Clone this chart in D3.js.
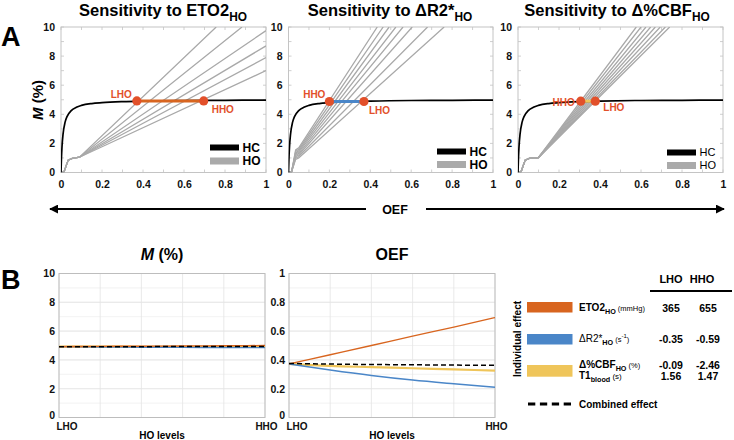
<!DOCTYPE html>
<html><head><meta charset="utf-8">
<script src="https://cdn.jsdelivr.net/npm/d3@7"></script>
<style>body{margin:0;background:#fff}svg{display:block;font-family:"Liberation Sans",Arial,Helvetica,sans-serif}</style>
</head><body><svg id="c" width="734" height="440"></svg>
<script>
// ---------------- DATA ----------------
const oefTicks = [0, 0.2, 0.4, 0.6, 0.8, 1];
const mTicks = [0, 2, 4, 6, 8, 10];
const hoLevelLabels = ["LHO", "HHO"];
const hoLevels = [0, 1, 2, 3, 4, 5];

// HC curve (M vs OEF)
const hcOEF = [0, 0.002, 0.005, 0.01, 0.02, 0.03, 0.05, 0.075, 0.1, 0.15, 0.2, 0.3, 0.4, 0.6, 0.8, 1];
const hcM   = [0, 0.91, 1.79, 2.64, 3.46, 3.86, 4.25, 4.48, 4.61, 4.74, 4.80, 4.87, 4.91, 4.95, 4.96, 4.98];

// HO curves ([OEF, M] points), sensitivity to ETO2
const hoETO2 = [
  [[0,0],[0.015,0.05],[0.035,0.85],[0.055,0.97],[0.09,1.05],[0.757,10]],
  [[0,0],[0.015,0.05],[0.035,0.85],[0.055,0.97],[0.09,1.05],[0.883,10]],
  [[0,0],[0.015,0.05],[0.035,0.85],[0.055,0.97],[0.09,1.05],[1,9.75]],
  [[0,0],[0.015,0.05],[0.035,0.85],[0.055,0.97],[0.09,1.05],[1,8.7]],
  [[0,0],[0.015,0.05],[0.035,0.85],[0.055,0.97],[0.09,1.05],[1,7.9]],
  [[0,0],[0.015,0.05],[0.035,0.85],[0.055,0.97],[0.09,1.05],[1,7.0]]
];
// sensitivity to dR2*
const hoR2 = [
  [[0,0],[0.015,0.05],[0.035,1.55],[0.05,1.7],[0.434,10]],
  [[0,0],[0.015,0.05],[0.035,1.45],[0.05,1.6],[0.463,10]],
  [[0,0],[0.015,0.05],[0.035,1.35],[0.05,1.5],[0.492,10]],
  [[0,0],[0.015,0.05],[0.035,1.26],[0.05,1.4],[0.525,10]],
  [[0,0],[0.015,0.05],[0.035,1.17],[0.05,1.3],[0.56,10]],
  [[0,0],[0.015,0.05],[0.035,1.08],[0.05,1.2],[0.605,10]],
  [[0,0],[0.015,0.05],[0.035,0.99],[0.05,1.1],[0.68,10]],
  [[0,0],[0.015,0.05],[0.035,0.90],[0.05,1.0],[0.761,10]]
];
// sensitivity to d%CBF
const hoCBF = [
  [[0,0],[0.015,0.05],[0.035,0.85],[0.055,0.97],[0.1,1.03],[0.577,10]],
  [[0,0],[0.015,0.05],[0.035,0.85],[0.055,0.97],[0.1,1.03],[0.600,10]],
  [[0,0],[0.015,0.05],[0.035,0.85],[0.055,0.97],[0.1,1.03],[0.624,10]],
  [[0,0],[0.015,0.05],[0.035,0.85],[0.055,0.97],[0.1,1.03],[0.647,10]],
  [[0,0],[0.015,0.05],[0.035,0.85],[0.055,0.97],[0.1,1.03],[0.670,10]],
  [[0,0],[0.015,0.05],[0.035,0.85],[0.055,0.97],[0.1,1.03],[0.694,10]],
  [[0,0],[0.015,0.05],[0.035,0.85],[0.055,0.97],[0.1,1.03],[0.719,10]],
  [[0,0],[0.015,0.05],[0.035,0.85],[0.055,0.97],[0.1,1.03],[0.740,10]]
];
// operating points [LHO, HHO] OEF, and M level
const dotsETO2 = [0.37, 0.696];  const dotMETO2 = 4.92;
const dotsR2   = [0.369, 0.2];   const dotMR2   = 4.88;
const dotsCBF  = [0.377, 0.306]; const dotMCBF  = 4.9;

// Panel B: M (%) across HO levels
const mETO2     = [4.92, 4.94, 4.95, 4.97, 4.98, 5.00];
const mR2       = [4.92, 4.90, 4.88, 4.87, 4.86, 4.85];
const mCBF      = [4.92, 4.92, 4.91, 4.91, 4.90, 4.90];
const mCombined = [4.92, 4.92, 4.92, 4.93, 4.93, 4.93];
// Panel B: OEF across HO levels
const oefETO2     = [0.372, 0.436, 0.500, 0.565, 0.628, 0.694];
const oefR2       = [0.372, 0.330, 0.292, 0.260, 0.234, 0.210];
const oefCBF      = [0.372, 0.358, 0.350, 0.342, 0.334, 0.326];
const oefCombined = [0.375, 0.371, 0.368, 0.366, 0.364, 0.362];

// Table
const tableHeaders = ["LHO", "HHO"];
const rowETO2 = ["365", "655"];
const rowR2 = ["-0.35", "-0.59"];
const rowCBF = ["-0.09", "-2.46"];
const rowT1 = ["1.56", "1.47"];

// ---------------- STYLE ----------------
const ORANGE = "#d8651f", BLUE = "#4a86c8", YELLOW = "#efc55a", DOT = "#e2502a", GRAY = "#a9a9a9";
const svg = d3.select("#c");

function rich(t, parts, fs) {
  let shift = 0;
  parts.forEach(p => {
    const ts = t.append("tspan").text(p.t);
    let target = 0, size = fs;
    if (p.sub) { target = fs * 0.3; size = fs * 0.72; }
    if (p.sup) { target = -fs * 0.4; size = fs * 0.6; }
    if (p.size) size = p.size;
    ts.attr("font-size", size);
    if (target !== shift) { ts.attr("dy", target - shift); shift = target; }
    if (p.it) ts.attr("font-style", "italic");
    if (p.w) ts.attr("font-weight", p.w);
  });
}

// ---------------- PANEL A ----------------
const A_Y0 = 172.5, A_Y1 = 27;
const panelsA = [
  { x0: 61, x1: 266, cx: 163, title: [{t:"Sensitivity to ETO2"},{t:"HO",sub:true}], lines: hoETO2, dots: dotsETO2, dotM: dotMETO2, color: ORANGE,
    lab: [{t:"LHO", dx:-5, dy:-3, anchor:"end"}, {t:"HHO", dx:8, dy:12, anchor:"start"}], leg: [-25, -11.5], legW: 700, legFs: 12 },
  { x0: 288.5, x1: 493, cx: 390, title: [{t:"Sensitivity to \u0394R2*"},{t:"HO",sub:true}], lines: hoR2, dots: dotsR2, dotM: dotMR2, color: BLUE,
    lab: [{t:"LHO", dx:5, dy:13, anchor:"start"}, {t:"HHO", dx:-4, dy:-3, anchor:"end"}], leg: [-21, -8], legW: 700, legFs: 12 },
  { x0: 518, x1: 723, cx: 617, title: [{t:"Sensitivity to \u0394%CBF"},{t:"HO",sub:true}], lines: hoCBF, dots: dotsCBF, dotM: dotMCBF, color: YELLOW,
    lab: [{t:"LHO", dx:8, dy:10, anchor:"start"}, {t:"HHO", dx:-6, dy:5, anchor:"end"}], leg: [-20, -7], legW: 400, legFs: 11 }
];

panelsA.forEach((p, i) => {
  const x = d3.scaleLinear().domain([0, 1]).range([p.x0, p.x1]);
  const y = d3.scaleLinear().domain([0, 10]).range([A_Y0, A_Y1]);
  const g = svg.append("g");
  g.append("rect").attr("x", p.x0).attr("y", A_Y1).attr("width", p.x1 - p.x0).attr("height", A_Y0 - A_Y1)
    .attr("fill", "#fff").attr("stroke", "#c4c4c4").attr("stroke-width", 1);
  const tk = g.append("g").attr("stroke", "#c4c4c4").attr("stroke-width", 0.8);
  d3.range(0, 1.001, 0.1).forEach(v => {
    tk.append("line").attr("x1", x(v)).attr("x2", x(v)).attr("y1", A_Y0).attr("y2", A_Y0 - 3);
    tk.append("line").attr("x1", x(v)).attr("x2", x(v)).attr("y1", A_Y1).attr("y2", A_Y1 + 3);
  });
  d3.range(0, 10.001, 1).forEach(v => {
    tk.append("line").attr("y1", y(v)).attr("y2", y(v)).attr("x1", p.x0).attr("x2", p.x0 + 3);
    tk.append("line").attr("y1", y(v)).attr("y2", y(v)).attr("x1", p.x1).attr("x2", p.x1 - 3);
  });
  const ax = d3.axisBottom(x).tickValues(oefTicks).tickFormat(d => d === 0 || d === 1 ? d3.format("d")(d) : d3.format(".1f")(d)).tickSize(0).tickPadding(8);
  const gx = g.append("g").attr("transform", `translate(0,${A_Y0})`).call(ax);
  gx.select(".domain").remove();
  gx.selectAll("text").attr("font-size", 10.5).attr("font-weight", "bold").attr("fill", "#111").attr("font-family", null);
  const ay = d3.axisLeft(y).tickValues(mTicks).tickSize(0).tickPadding(6);
  const gy = g.append("g").attr("transform", `translate(${p.x0},0)`).call(ay);
  gy.select(".domain").remove();
  gy.selectAll("text").attr("font-size", 10.5).attr("font-weight", "bold").attr("fill", "#111").attr("font-family", null);

  const cid = "clipA" + i;
  svg.append("clipPath").attr("id", cid).append("rect").attr("x", p.x0).attr("y", A_Y1).attr("width", p.x1 - p.x0).attr("height", A_Y0 - A_Y1);
  const pg = g.append("g").attr("clip-path", `url(#${cid})`);
  const line = d3.line().x(d => x(d[0])).y(d => y(d[1]));
  p.lines.forEach(l => {
    pg.append("path").attr("d", line(l)).attr("fill", "none").attr("stroke", GRAY).attr("stroke-width", 1.3);
  });
  const hc = hcOEF.map((v, k) => [v, hcM[k]]);
  pg.append("path").attr("d", d3.line().x(d => x(d[0])).y(d => y(d[1])).curve(d3.curveMonotoneX)(hc))
    .attr("fill", "none").attr("stroke", "#000").attr("stroke-width", 1.7);
  g.append("line").attr("x1", x(p.dots[0])).attr("x2", x(p.dots[1])).attr("y1", y(p.dotM)).attr("y2", y(p.dotM))
    .attr("stroke", p.color).attr("stroke-width", 3);
  p.dots.forEach((d, k) => {
    g.append("circle").attr("cx", x(d)).attr("cy", y(p.dotM)).attr("r", 4.6).attr("fill", DOT);
    const L = p.lab[k];
    g.append("text").attr("x", x(d) + L.dx).attr("y", y(p.dotM) + L.dy).attr("text-anchor", L.anchor)
      .attr("font-size", 10).attr("font-weight", "bold").attr("fill", DOT).text(L.t);
  });
  const lg = g.append("g");
  [["HC", "#000", p.leg[0], 6], ["HO", "#aaaaaa", p.leg[1], 7]].forEach(r => {
    lg.append("rect").attr("x", p.x1 - 56).attr("y", A_Y0 + r[2] - r[3] / 2).attr("width", 29).attr("height", r[3]).attr("fill", r[1]);
    lg.append("text").attr("x", p.x1 - 23.5).attr("y", A_Y0 + r[2] + p.legFs * 0.36).attr("font-size", p.legFs).attr("font-weight", p.legW).attr("fill", "#000").text(r[0]);
  });
  rich(svg.append("text").attr("x", p.cx).attr("y", 16).attr("text-anchor", "middle").attr("font-weight", "bold").attr("fill", "#000"), p.title, 16.5);
});

rich(svg.append("text").attr("transform", "translate(43,100) rotate(-90)").attr("text-anchor", "middle").attr("font-weight", "bold"),
  [{t:"M", it:true}, {t:" (%)"}], 15);

svg.append("text").attr("x", 1).attr("y", 46).attr("font-size", 27).attr("font-weight", "bold").text("A");
svg.append("text").attr("x", 1).attr("y", 289).attr("font-size", 27).attr("font-weight", "bold").text("B");

// OEF double arrow
const arrowY = 209;
svg.append("defs").append("marker").attr("id", "ah").attr("viewBox", "0 0 10 10").attr("refX", 9).attr("refY", 5)
  .attr("markerWidth", 4.5).attr("markerHeight", 4.5).attr("orient", "auto-start-reverse")
  .append("path").attr("d", "M0,0L10,5L0,10z").attr("fill", "#000");
svg.append("line").attr("x1", 50).attr("x2", 366).attr("y1", arrowY).attr("y2", arrowY).attr("stroke", "#000").attr("stroke-width", 2).attr("marker-start", "url(#ah)");
svg.append("line").attr("x1", 426).attr("x2", 724).attr("y1", arrowY).attr("y2", arrowY).attr("stroke", "#000").attr("stroke-width", 2).attr("marker-end", "url(#ah)");
svg.append("text").attr("x", 395).attr("y", arrowY + 4.5).attr("text-anchor", "middle").attr("font-size", 12.5).attr("font-weight", "bold").text("OEF");

// ---------------- PANEL B ----------------
const B_Y0 = 417.5, B_Y1 = 273.5;
const panelsB = [
  { x0: 59, x1: 265, dom: [0, 10], ticks: mTicks, minor: d3.range(0, 10.01, 1), fmt: d3.format("d"),
    series: [[mCBF, YELLOW, 2.2], [mR2, BLUE, 1.4], [mETO2, ORANGE, 1.4]], comb: mCombined,
    title: [{t:"M", it:true}, {t:" (%)"}], cx: 162 },
  { x0: 289, x1: 495, dom: [0, 1], ticks: [0, 0.2, 0.4, 0.6, 0.8, 1], minor: d3.range(0, 1.001, 0.1), fmt: d => (d === 0 || d === 1) ? d3.format("d")(d) : d3.format(".1f")(d),
    series: [[oefCBF, YELLOW, 2.2], [oefR2, BLUE, 1.4], [oefETO2, ORANGE, 1.4]], comb: oefCombined,
    title: [{t:"OEF"}], cx: 392 }
];
panelsB.forEach(p => {
  const x = d3.scaleLinear().domain([0, 5]).range([p.x0, p.x1]);
  const y = d3.scaleLinear().domain(p.dom).range([B_Y0, B_Y1]);
  const g = svg.append("g");
  g.append("rect").attr("x", p.x0).attr("y", B_Y1).attr("width", p.x1 - p.x0).attr("height", B_Y0 - B_Y1).attr("fill", "#fff");
  p.minor.forEach(v => g.append("line").attr("x1", p.x0).attr("x2", p.x1).attr("y1", y(v)).attr("y2", y(v)).attr("stroke", "#efefef").attr("stroke-width", 0.8));
  p.ticks.forEach(v => g.append("line").attr("x1", p.x0).attr("x2", p.x1).attr("y1", y(v)).attr("y2", y(v)).attr("stroke", "#e4e4e4").attr("stroke-width", 0.8));
  hoLevels.forEach(v => g.append("line").attr("x1", x(v)).attr("x2", x(v)).attr("y1", B_Y0).attr("y2", B_Y1).attr("stroke", "#e4e4e4").attr("stroke-width", 0.8));
  g.append("rect").attr("x", p.x0).attr("y", B_Y1).attr("width", p.x1 - p.x0).attr("height", B_Y0 - B_Y1).attr("fill", "none").attr("stroke", "#bdbdbd");
  const gy = g.append("g").attr("transform", `translate(${p.x0},0)`).call(d3.axisLeft(y).tickValues(p.ticks).tickFormat(p.fmt).tickSize(0).tickPadding(4));
  gy.select(".domain").remove();
  gy.selectAll("text").attr("font-size", 10.5).attr("font-weight", "bold").attr("fill", "#111").attr("font-family", null);
  gy.selectAll(".tick").filter(d => d === 0).select("text").attr("dy", "0.1em");
  const gx = g.append("g").attr("transform", `translate(0,${B_Y0})`).call(d3.axisBottom(x).tickValues([0, 5]).tickFormat((d, k) => hoLevelLabels[k]).tickSize(0).tickPadding(5));
  gx.select(".domain").remove();
  gx.selectAll("text").attr("font-size", 10).attr("font-weight", "bold").attr("fill", "#111").attr("font-family", null);
  gx.selectAll(".tick").filter(d => d === 0).select("text").attr("text-anchor", "start").attr("x", -3);
  gx.selectAll(".tick").filter(d => d === 5).select("text").attr("x", 1);
  g.append("text").attr("x", (p.x0 + p.x1) / 2).attr("y", 438.5).attr("text-anchor", "middle").attr("font-size", 10).attr("font-weight", "bold").text("HO levels");
  const line = d3.line().x((d, k) => x(hoLevels[k])).y(d => y(d)).curve(d3.curveMonotoneX);
  p.series.forEach(s => g.append("path").attr("d", line(s[0])).attr("fill", "none").attr("stroke", s[1]).attr("stroke-width", s[2]));
  g.append("path").attr("d", line(p.comb)).attr("fill", "none").attr("stroke", "#000").attr("stroke-width", 1.5).attr("stroke-dasharray", "5,3");
  rich(svg.append("text").attr("x", p.cx).attr("y", 260).attr("text-anchor", "middle").attr("font-weight", "bold"), p.title, 16);
});

// ---------------- TABLE / LEGEND ----------------
const colX = [671, 708];
const tg = svg.append("g").attr("font-weight", "bold").attr("fill", "#000");
tableHeaders.forEach((h, k) => tg.append("text").attr("x", k === 0 ? 671 : 702).attr("y", 283).attr("text-anchor", "middle").attr("font-size", 11).text(h));
tg.append("line").attr("x1", 650).attr("x2", 732).attr("y1", 291).attr("y2", 291).attr("stroke", "#000").attr("stroke-width", 2);

const rows = [
  { color: ORANGE, by: 302, bh: 10.5, lines: [{ y: 312, parts: [{t:"ETO2"},{t:"HO",sub:true},{t:" (mmHg)", size:7.5, w:"normal"}], vals: rowETO2 }] },
  { color: BLUE, by: 334, bh: 10.5, lines: [{ y: 343, parts: [{t:"\u0394R2*", w:"normal"},{t:"HO",sub:true},{t:" (s", size:7.5, w:"normal"},{t:"-1",sup:true, w:"normal"},{t:")", size:7.5, w:"normal"}], vals: rowR2 }] },
  { color: YELLOW, by: 365, bh: 11.7, lines: [
      { y: 369, parts: [{t:"\u0394%CBF"},{t:"HO",sub:true},{t:" (%)", size:7.5, w:"normal"}], vals: rowCBF },
      { y: 379.5, parts: [{t:"T1"},{t:"blood",sub:true},{t:" (s)", size:8, w:"normal"}], vals: rowT1 } ] }
];
rows.forEach(r => {
  tg.append("rect").attr("x", 527).attr("y", r.by).attr("width", 45.5).attr("height", r.bh).attr("fill", r.color);
  r.lines.forEach(l => {
    rich(tg.append("text").attr("x", 579).attr("y", l.y - 1), l.parts, 10);
    l.vals.forEach((v, k) => tg.append("text").attr("x", colX[k]).attr("y", l.y).attr("text-anchor", "middle").attr("font-size", 10.5).text(v));
  });
});
tg.append("text").attr("transform", "translate(521,339) rotate(-90)").attr("text-anchor", "middle").attr("font-size", 10).text("Individual effect");
tg.append("line").attr("x1", 528).attr("x2", 572).attr("y1", 404).attr("y2", 404).attr("stroke", "#000").attr("stroke-width", 3).attr("stroke-dasharray", "7.3,4.6");
tg.append("text").attr("x", 579).attr("y", 407.5).attr("font-size", 10).text("Combined effect");
</script></body></html>
